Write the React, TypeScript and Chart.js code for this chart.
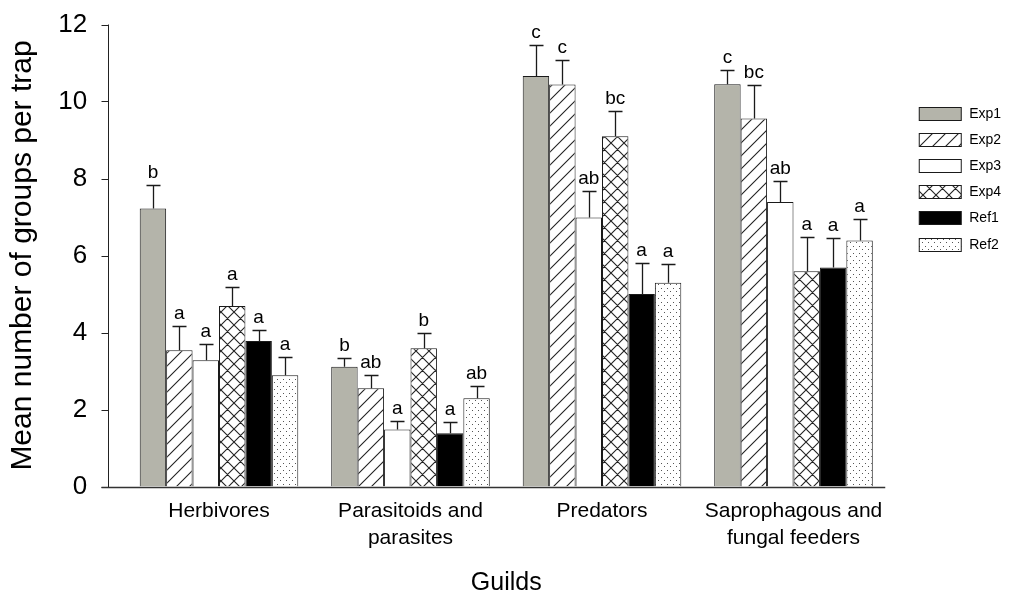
import React, { useEffect, useRef } from "react";
import { Chart, registerables } from "chart.js";

Chart.register(...registerables);

// ---------- data ----------
const guilds: string[][] = [
  ["Herbivores"],
  ["Parasitoids and", "parasites"],
  ["Predators"],
  ["Saprophagous and", "fungal feeders"],
];
const seriesNames = ["Exp1", "Exp2", "Exp3", "Exp4", "Ref1", "Ref2"];

const exp1 = [7.22, 3.11, 10.66, 10.45];
const exp2 = [3.54, 2.55, 10.44, 9.56];
const exp3 = [3.28, 1.48, 6.99, 7.39];
const exp4 = [4.69, 3.59, 9.1, 5.59];
const ref1 = [3.78, 1.38, 5.0, 5.69];
const ref2 = [2.89, 2.29, 5.29, 6.39];

const exp1Err = [0.6, 0.24, 0.82, 0.37];
const exp2Err = [0.63, 0.35, 0.63, 0.88];
const exp3Err = [0.41, 0.22, 0.68, 0.55];
const exp4Err = [0.48, 0.39, 0.65, 0.89];
const ref1Err = [0.28, 0.29, 0.81, 0.77];
const ref2Err = [0.47, 0.32, 0.48, 0.55];

const exp1Letters = ["b", "b", "c", "c"];
const exp2Letters = ["a", "ab", "c", "bc"];
const exp3Letters = ["a", "a", "ab", "ab"];
const exp4Letters = ["a", "b", "bc", "a"];
const ref1Letters = ["a", "a", "a", "a"];
const ref2Letters = ["a", "ab", "a", "a"];

const yTicks = [0, 2, 4, 6, 8, 10, 12];
const yTitle = "Mean number of groups per trap";
const xTitle = "Guilds";

const seriesValues = [exp1, exp2, exp3, exp4, ref1, ref2];
const seriesErrors = [exp1Err, exp2Err, exp3Err, exp4Err, ref1Err, ref2Err];
const seriesLetters = [exp1Letters, exp2Letters, exp3Letters, exp4Letters, ref1Letters, ref2Letters];

const FONT = '"Liberation Sans", Arial, Helvetica, sans-serif';
const INK = "#1a1a1a";

// ---------- patterns ----------
function makeTile(w: number, h: number, draw: (c: CanvasRenderingContext2D) => void): CanvasPattern | string {
  const cv = document.createElement("canvas");
  cv.width = w;
  cv.height = h;
  const c = cv.getContext("2d");
  if (!c) return "#fff";
  c.fillStyle = "#fff";
  c.fillRect(0, 0, w, h);
  draw(c);
  const p = c.createPattern(cv, "repeat");
  return p || "#fff";
}

function hatchPattern() {
  const s = 13;
  return makeTile(s, s, (c) => {
    c.strokeStyle = "#222";
    c.lineWidth = 1.1;
    c.beginPath();
    c.moveTo(-2, s + 2);
    c.lineTo(s + 2, -2);
    c.moveTo(-2, 2);
    c.lineTo(2, -2);
    c.moveTo(s - 2, s + 2);
    c.lineTo(s + 2, s - 2);
    c.stroke();
  });
}

function crossPattern() {
  const s = 13;
  return makeTile(s, s, (c) => {
    c.strokeStyle = "#222";
    c.lineWidth = 1.1;
    c.beginPath();
    c.moveTo(-2, s + 2);
    c.lineTo(s + 2, -2);
    c.moveTo(-2, 2);
    c.lineTo(2, -2);
    c.moveTo(s - 2, s + 2);
    c.lineTo(s + 2, s - 2);
    c.moveTo(-2, -2);
    c.lineTo(s + 2, s + 2);
    c.moveTo(-2, s - 2);
    c.lineTo(2, s + 2);
    c.moveTo(s - 2, -2);
    c.lineTo(s + 2, 2);
    c.stroke();
  });
}

function dotPattern() {
  return makeTile(6, 7, (c) => {
    c.fillStyle = "#555";
    c.fillRect(1, 1, 1, 1);
    c.fillRect(4, 4, 1, 1);
  });
}

// ---------- overlay plugin ----------
const overlayPlugin = {
  id: "overlay",
  afterDatasetsDraw(chart: any) {
    const { ctx, chartArea } = chart;
    const y = chart.scales.y;
    ctx.save();

    // error bars and letters
    chart.data.datasets.forEach((ds: any, i: number) => {
      const meta = chart.getDatasetMeta(i);
      meta.data.forEach((bar: any, j: number) => {
        const v = ds.data[j];
        const e = seriesErrors[i][j];
        const top = Math.round(y.getPixelForValue(v + e)) + 0.5;
        const x = Math.round(bar.x) + 0.5;
        ctx.strokeStyle = INK;
        ctx.lineWidth = 1.3;
        ctx.beginPath();
        ctx.moveTo(x, bar.y);
        ctx.lineTo(x, top);
        ctx.moveTo(x - 7, top);
        ctx.lineTo(x + 7, top);
        ctx.stroke();

        ctx.fillStyle = "#000";
        ctx.font = `19px ${FONT}`;
        ctx.textAlign = "center";
        ctx.textBaseline = "alphabetic";
        ctx.fillText(seriesLetters[i][j], bar.x, top - 8);
      });
    });

    // axes lines
    const axX = Math.round(chartArea.left - 15) + 0.5;
    const axBottom = Math.round(y.getPixelForValue(0)) + 0.5;
    const axTop = y.getPixelForValue(yTicks[yTicks.length - 1]);
    ctx.strokeStyle = "#222";
    ctx.lineWidth = 1;
    ctx.beginPath();
    ctx.moveTo(axX, axTop);
    ctx.lineTo(axX, axBottom);
    yTicks.forEach((t) => {
      const py = Math.round(y.getPixelForValue(t)) + 0.5;
      ctx.moveTo(axX - 7, py);
      ctx.lineTo(axX, py);
    });
    ctx.stroke();

    ctx.strokeStyle = "#333";
    ctx.lineWidth = 1.3;
    ctx.beginPath();
    ctx.moveTo(axX - 7, axBottom);
    ctx.lineTo(chartArea.right - 4, axBottom);
    ctx.stroke();
    ctx.restore();
  },
  afterDraw(chart: any) {
    const { ctx, chartArea } = chart;
    ctx.save();
    const bx = chartArea.right + 30;
    const top = 107;
    const step = 26.1;
    chart.data.datasets.forEach((ds: any, i: number) => {
      const by = Math.round(top + i * step) + 0.5;
      ctx.fillStyle = ds.backgroundColor;
      ctx.fillRect(bx, by, 42, 13);
      ctx.strokeStyle = INK;
      ctx.lineWidth = 1;
      ctx.strokeRect(bx, by, 42, 13);
      ctx.fillStyle = "#000";
      ctx.font = `14px ${FONT}`;
      ctx.textAlign = "left";
      ctx.textBaseline = "middle";
      ctx.fillText(ds.label, bx + 50, by + 7);
    });
    ctx.restore();
  },
};

export default function App() {
  const ref = useRef<HTMLCanvasElement | null>(null);

  useEffect(() => {
    const canvas = ref.current;
    if (!canvas) return;
    Chart.defaults.font.family = FONT;
    const fills: any[] = [
      "#b4b4aa",
      hatchPattern(),
      "#ffffff",
      crossPattern(),
      "#000000",
      dotPattern(),
    ];

    const chart = new Chart(canvas, {
      type: "bar",
      data: {
        labels: guilds as any,
        datasets: seriesNames.map((name, i) => ({
          label: name,
          data: seriesValues[i],
          backgroundColor: fills[i],
          borderColor: INK,
          borderWidth: 1,
          barPercentage: 1,
          categoryPercentage: 0.828,
        })),
      },
      options: {
        animation: false,
        responsive: true,
        maintainAspectRatio: false,
        events: [],
        layout: { padding: { left: 0, right: 121.75, top: 24.5, bottom: 0 } },
        plugins: {
          legend: { display: false },
          tooltip: { enabled: false },
        },
        scales: {
          x: {
            type: "category",
            offset: true,
            grid: { display: false, drawTicks: false },
            border: { display: false },
            ticks: {
              color: "#000",
              font: { size: 21, family: FONT, lineHeight: 1.28 },
              padding: 11,
              maxRotation: 0,
              minRotation: 0,
              autoSkip: false,
            },
            title: {
              display: true,
              text: xTitle,
              color: "#000",
              font: { size: 25, family: FONT, lineHeight: 1 },
              padding: { top: 0, bottom: 0.5 },
            },
            afterFit: (scale: any) => {
              scale.height = 109.5;
            },
          } as any,
          y: {
            min: 0,
            max: 12,
            grid: { display: false, drawTicks: false },
            border: { display: false },
            afterBuildTicks: (scale: any) => {
              scale.ticks = yTicks.map((v) => ({ value: v }));
            },
            ticks: {
              color: "#000",
              font: { size: 26, family: FONT },
              padding: 36,
            },
            title: {
              display: true,
              text: yTitle,
              color: "#000",
              font: { size: 30, family: FONT, lineHeight: 1 },
              padding: { top: 8, bottom: 0 },
            },
            afterFit: (scale: any) => {
              scale.width = 123.25;
              scale.paddingTop = 0;
              scale.paddingBottom = 0;
            },
          } as any,
        },
      },
      plugins: [overlayPlugin],
    });

    return () => chart.destroy();
  }, []);

  return (
    <div
      style={{
        position: "fixed",
        left: 0,
        top: 0,
        width: 1011,
        height: 596,
        background: "#ffffff",
      }}
    >
      <canvas ref={ref} />
    </div>
  );
}
